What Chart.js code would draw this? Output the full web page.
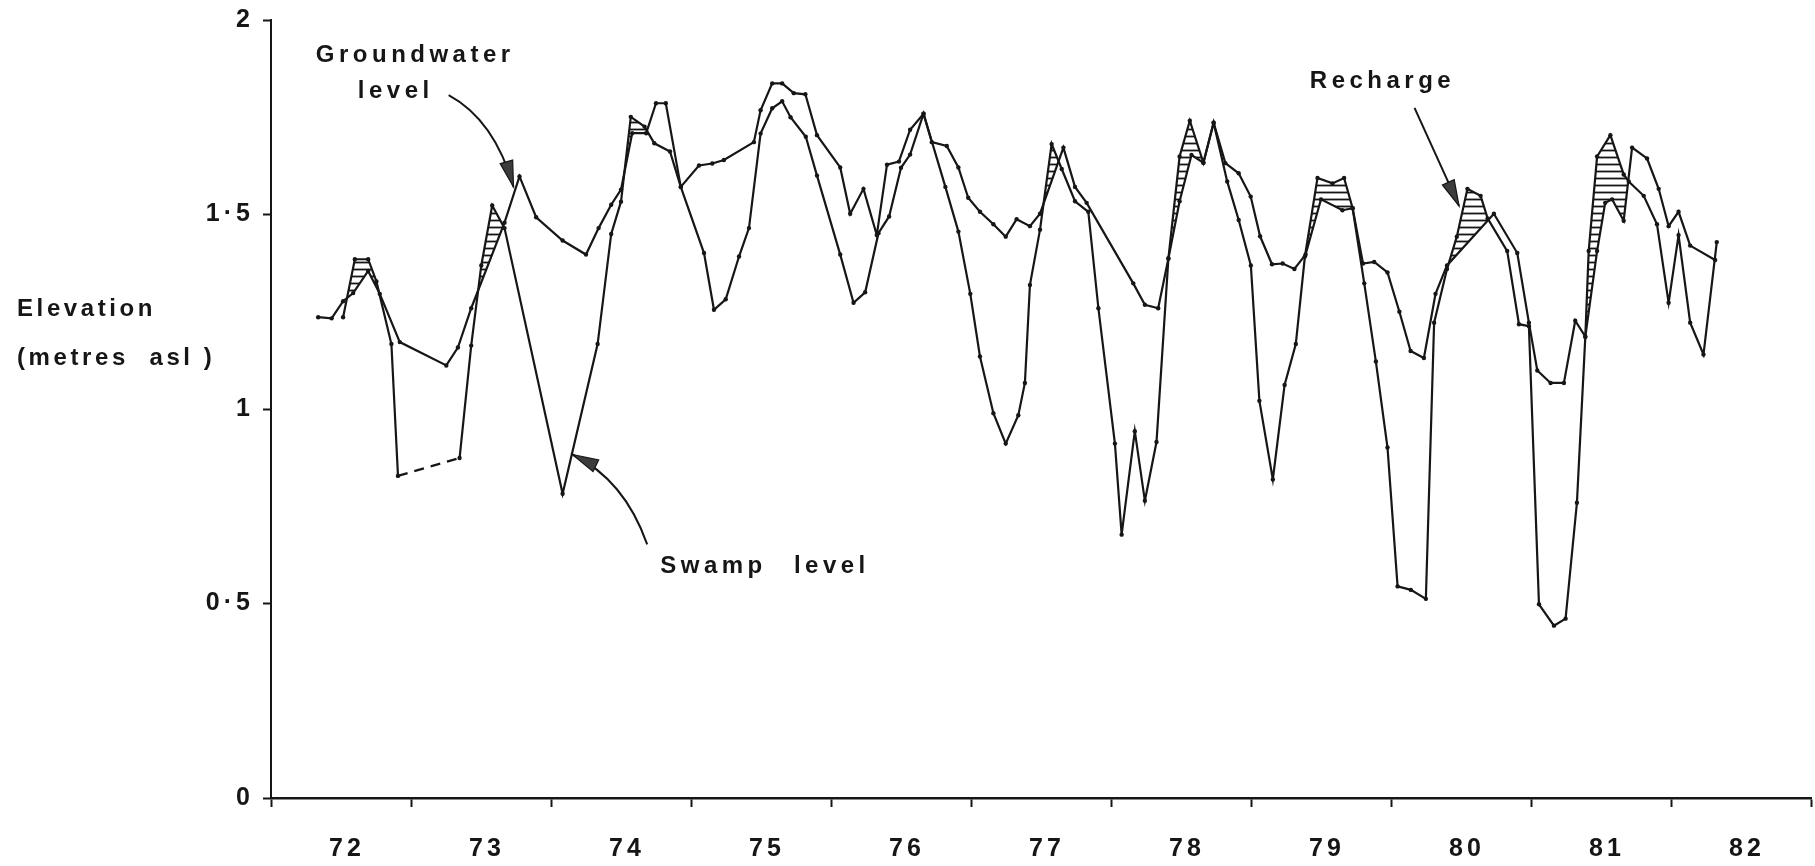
<!DOCTYPE html>
<html>
<head>
<meta charset="utf-8">
<title>Groundwater and swamp levels</title>
<script src="https://cdn.jsdelivr.net/npm/chart.js@4.4.1/dist/chart.umd.min.js"></script>
<style>
  html, body { margin: 0; padding: 0; background: #fff; }
  #wrap { width: 1815px; height: 866px; }
</style>
</head>
<body>
<div id="wrap"><canvas id="levels" width="1815" height="866"></canvas></div>
<script>
// decimal years, 72.0 = start of 1972; levels in metres asl
const gwYears = [72.337, 72.433, 72.515, 72.587, 72.694, 72.777, 72.920, 73.252, 73.335, 73.430,
  73.668, 73.775, 73.894, 74.083, 74.250, 74.340, 74.430, 74.500, 74.580, 74.680,
  74.750, 74.820, 74.927, 75.057, 75.152, 75.235, 75.449, 75.497, 75.580, 75.651,
  75.734, 75.817, 75.900, 76.066, 76.137, 76.232, 76.327, 76.400, 76.485, 76.565,
  76.661, 76.720, 76.827, 76.910, 76.980, 77.064, 77.160, 77.248, 77.326, 77.421,
  77.493, 77.660, 77.743, 77.826, 78.159, 78.242, 78.337, 78.410, 78.490, 78.575,
  78.660, 78.733, 78.817, 78.912, 78.998, 79.065, 79.150, 79.226, 79.310, 79.390,
  79.500, 79.653, 79.726, 79.800, 79.880, 79.975, 80.060, 80.140, 80.235, 80.318,
  80.400, 80.735, 80.902, 80.985, 81.045, 81.140, 81.235, 81.316, 81.388, 81.472,
  81.530, 81.579, 81.662, 81.722, 81.829, 81.912, 81.983, 82.054, 82.137, 82.315];
const gwLevels = [1.236, 1.233, 1.277, 1.298, 1.355, 1.296, 1.172, 1.112, 1.158, 1.259,
  1.479, 1.598, 1.493, 1.433, 1.397, 1.465, 1.525, 1.564, 1.709, 1.709,
  1.786, 1.786, 1.571, 1.626, 1.631, 1.640, 1.686, 1.768, 1.837, 1.837,
  1.812, 1.809, 1.704, 1.621, 1.502, 1.566, 1.447, 1.628, 1.636, 1.718,
  1.759, 1.686, 1.676, 1.621, 1.543, 1.507, 1.475, 1.443, 1.488, 1.470,
  1.502, 1.672, 1.571, 1.530, 1.323, 1.268, 1.259, 1.387, 1.534, 1.653,
  1.633, 1.736, 1.632, 1.606, 1.546, 1.444, 1.372, 1.374, 1.360, 1.397,
  1.539, 1.511, 1.516, 1.374, 1.378, 1.351, 1.250, 1.149, 1.131, 1.296,
  1.369, 1.502, 1.401, 1.222, 1.099, 1.067, 1.067, 1.227, 1.186, 1.406,
  1.530, 1.539, 1.484, 1.672, 1.644, 1.566, 1.470, 1.507, 1.420, 1.383];

const swYears = [72.515, 72.599, 72.694, 72.753, 72.860, 72.907, 73.347, 73.430, 73.502, 73.580,
  73.668, 74.083, 74.333, 74.430, 74.500, 74.570, 74.668, 74.738, 74.850, 74.927,
  75.093, 75.164, 75.248, 75.343, 75.414, 75.497, 75.580, 75.651, 75.711, 75.820,
  75.900, 76.066, 76.161, 76.244, 76.339, 76.415, 76.500, 76.565, 76.661, 76.817,
  76.910, 76.995, 77.064, 77.160, 77.248, 77.338, 77.385, 77.421, 77.493, 77.576,
  77.648, 77.743, 77.838, 77.910, 78.028, 78.076, 78.170, 78.242, 78.325, 78.410,
  78.490, 78.563, 78.660, 78.733, 78.830, 78.912, 78.999, 79.060, 79.156, 79.240,
  79.320, 79.385, 79.475, 79.582, 79.665, 79.726, 79.809, 79.892, 79.975, 80.047,
  80.142, 80.249, 80.308, 80.400, 80.470, 80.546, 80.640, 80.690, 80.830, 80.914,
  80.985, 81.057, 81.164, 81.247, 81.328, 81.388, 81.412, 81.472, 81.567, 81.662,
  81.698, 81.805, 81.900, 81.983, 82.054, 82.137, 82.232, 82.327];
const swLevels = [1.236, 1.385, 1.385, 1.328, 1.167, 0.828, 0.874, 1.163, 1.369, 1.523,
  1.465, 0.782, 1.167, 1.450, 1.533, 1.751, 1.726, 1.683, 1.662, 1.571,
  1.401, 1.255, 1.282, 1.392, 1.465, 1.708, 1.773, 1.791, 1.750, 1.700,
  1.600, 1.397, 1.273, 1.300, 1.452, 1.495, 1.620, 1.654, 1.759, 1.571,
  1.456, 1.296, 1.135, 0.989, 0.911, 0.984, 1.067, 1.319, 1.461, 1.681,
  1.617, 1.534, 1.507, 1.259, 0.911, 0.677, 0.943, 0.764, 0.915, 1.387,
  1.649, 1.741, 1.633, 1.736, 1.585, 1.486, 1.369, 1.021, 0.819, 1.062,
  1.167, 1.392, 1.594, 1.580, 1.594, 1.516, 1.323, 1.122, 0.901, 0.544,
  0.535, 0.512, 1.222, 1.360, 1.443, 1.566, 1.548, 1.490, 1.406, 1.218,
  1.213, 0.498, 0.443, 0.461, 0.759, 1.186, 1.406, 1.649, 1.704, 1.603,
  1.585, 1.548, 1.475, 1.273, 1.447, 1.222, 1.140, 1.429];

// no swamp readings between these two dates - drawn dashed
const swGapStart = 72.907;

const yearLabels = ['72', '73', '74', '75', '76', '77', '78', '79', '80', '81', '82'];
const levelTicks = [0, 0.5, 1, 1.5, 2];

const ink = '#161616';
const fontFamily = '"Liberation Sans", Arial, sans-serif';
const tickFont = { family: fontFamily, size: 25, weight: 'bold' };

// year ticks on the boundaries, labels in the middle of each year
const xTicks = [];
for (let v = 72; v <= 83; v += 0.5) xTicks.push(v);

function toPoints(xs, ys) {
  return xs.map((x, i) => ({ x: x, y: ys[i] }));
}

const canvas = document.getElementById('levels');
const ctx = canvas.getContext('2d');

// horizontal hatching for the recharge areas
function hatchPattern() {
  const tile = document.createElement('canvas');
  tile.width = 8;
  tile.height = 7;
  const t = tile.getContext('2d');
  t.strokeStyle = ink;
  t.lineWidth = 1.8;
  t.beginPath();
  t.moveTo(0, 3.5);
  t.lineTo(8, 3.5);
  t.stroke();
  return ctx.createPattern(tile, 'repeat');
}

// annotation text, placed in data units
const notes = [
  { text: 'Groundwater', x: 72.32, y: 1.892 },
  { text: 'level', x: 72.62, y: 1.80 },
  { text: 'Swamp', x: 74.78, y: 0.578 },
  { text: 'level', x: 75.735, y: 0.578 },
  { text: 'Recharge', x: 79.42, y: 1.825 }
];
const arrows = [
  { from: [73.269, 1.807], bend: [73.597, 1.743], to: [73.732, 1.571] },
  { from: [74.687, 0.652], bend: [74.523, 0.819], to: [74.153, 0.883] },
  { from: [80.168, 1.774], bend: [80.327, 1.648], to: [80.486, 1.522] }
];
const axisTitle = [
  { text: 'Elevation', y: 1.239 },
  { text: '(metres  asl )', y: 1.113 }
];

function arrowHead(c, bx, by, tx, ty) {
  const a = Math.atan2(ty - by, tx - bx);
  const len = 26, half = 6.5;
  c.beginPath();
  c.moveTo(tx, ty);
  c.lineTo(tx - len * Math.cos(a) + half * Math.sin(a), ty - len * Math.sin(a) - half * Math.cos(a));
  c.lineTo(tx - len * Math.cos(a) - half * Math.sin(a), ty - len * Math.sin(a) + half * Math.cos(a));
  c.closePath();
  c.fill();
  c.stroke();
}

const annotate = {
  id: 'annotate',
  beforeDraw(chart) {
    chart.ctx.letterSpacing = '4px';
  },
  afterDraw(chart) {
    const c = chart.ctx;
    const xs = chart.scales.x, ys = chart.scales.y;
    c.save();
    c.fillStyle = ink;
    c.strokeStyle = ink;
    c.font = 'bold 24px ' + fontFamily;
    c.letterSpacing = '4.5px';
    c.textAlign = 'left';
    c.textBaseline = 'alphabetic';
    notes.forEach(n => c.fillText(n.text, xs.getPixelForValue(n.x), ys.getPixelForValue(n.y)));
    c.letterSpacing = '3.6px';
    axisTitle.forEach(n => c.fillText(n.text, 17, ys.getPixelForValue(n.y)));

    c.lineWidth = 2;
    arrows.forEach(a => {
      const p0 = [xs.getPixelForValue(a.from[0]), ys.getPixelForValue(a.from[1])];
      const pc = [xs.getPixelForValue(a.bend[0]), ys.getPixelForValue(a.bend[1])];
      const p1 = [xs.getPixelForValue(a.to[0]), ys.getPixelForValue(a.to[1])];
      c.strokeStyle = ink;
      c.beginPath();
      c.moveTo(p0[0], p0[1]);
      c.quadraticCurveTo(pc[0], pc[1], p1[0], p1[1]);
      c.stroke();
      c.fillStyle = '#3c3c3c';
      c.lineWidth = 1.2;
      arrowHead(c, pc[0], pc[1], p1[0], p1[1]);
      c.lineWidth = 2;
    });
    c.restore();
    c.letterSpacing = '0px';
  }
};

const lineStyle = {
  borderColor: ink,
  borderWidth: 2.2,
  pointRadius: 2.2,
  pointBackgroundColor: ink,
  pointBorderWidth: 0,
  tension: 0
};

new Chart(ctx, {
  type: 'line',
  data: {
    datasets: [
      Object.assign({
        label: 'Groundwater level',
        data: toPoints(gwYears, gwLevels),
        fill: false
      }, lineStyle),
      Object.assign({
        label: 'Swamp level',
        data: toPoints(swYears, swLevels),
        // recharge: swamp above groundwater
        fill: { target: 0, above: hatchPattern(), below: 'rgba(0,0,0,0)' },
        segment: {
          borderDash: s => swYears[s.p0DataIndex] === swGapStart ? [10, 7] : undefined
        }
      }, lineStyle)
    ]
  },
  options: {
    responsive: false,
    animation: false,
    events: [],
    layout: { padding: { top: 20, right: 0, bottom: 0, left: 0 } },
    plugins: {
      legend: { display: false },
      tooltip: { enabled: false }
    },
    scales: {
      x: {
        type: 'linear',
        min: 72,
        max: 83,
        afterBuildTicks: s => { s.ticks = xTicks.map(v => ({ value: v })); },
        afterFit: s => {
          s.height = 68;
          s.paddingLeft = 0;
          s.paddingRight = 0;
        },
        grid: {
          drawOnChartArea: false,
          drawTicks: true,
          tickLength: 9,
          tickWidth: 2,
          tickColor: c => Number.isInteger(c.tick.value) ? ink : 'rgba(0,0,0,0)'
        },
        border: { display: true, color: ink, width: 2.5 },
        ticks: {
          autoSkip: false,
          maxRotation: 0,
          minRotation: 0,
          padding: 27,
          labelOffset: 6,
          color: ink,
          font: tickFont,
          callback: v => Number.isInteger(v) ? '' : yearLabels[Math.floor(v) - 72]
        }
      },
      y: {
        min: 0,
        max: 2,
        afterBuildTicks: s => { s.ticks = levelTicks.map(v => ({ value: v })); },
        afterFit: s => {
          s.width = 271;
          s.paddingTop = 0;
          s.paddingBottom = 0;
        },
        grid: { drawOnChartArea: false, tickLength: 8, tickWidth: 2, tickColor: ink },
        border: { display: true, color: ink, width: 2 },
        ticks: {
          padding: 9,
          color: ink,
          font: tickFont,
          callback: v => String(v).replace('.', '\u00B7')
        }
      }
    }
  },
  plugins: [annotate]
});
</script>
</body>
</html>
